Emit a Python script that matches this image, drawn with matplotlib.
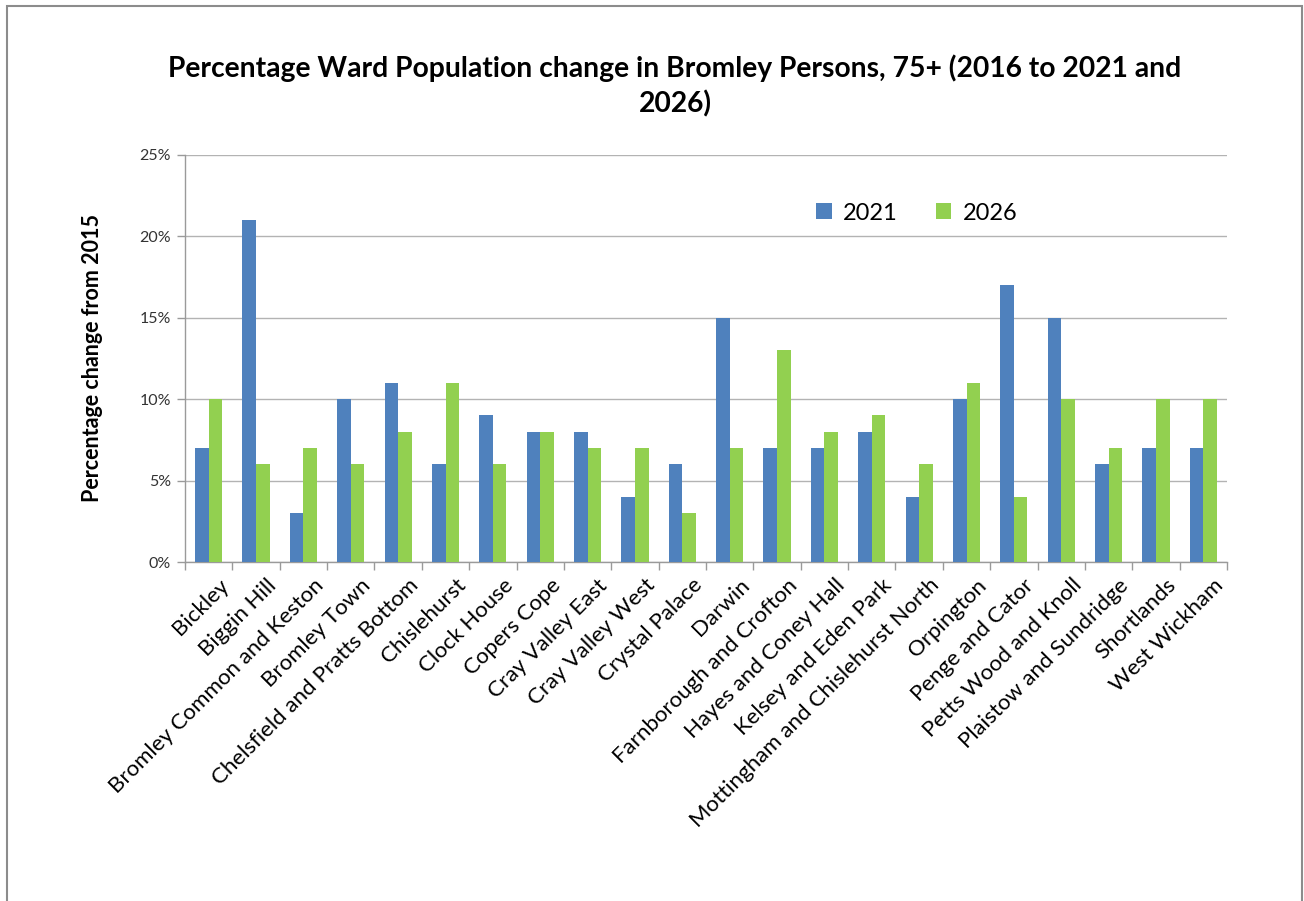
import matplotlib
matplotlib.use("Agg")
import matplotlib.pyplot as plt
from matplotlib.patches import Rectangle
import matplotlib.transforms as mtransforms
import numpy as np

wards = ["Bickley", "Biggin Hill", "Bromley Common and Keston", "Bromley Town",
         "Chelsfield and Pratts Bottom", "Chislehurst", "Clock House", "Copers Cope",
         "Cray Valley East", "Cray Valley West", "Crystal Palace", "Darwin",
         "Farnborough and Crofton", "Hayes and Coney Hall", "Kelsey and Eden Park",
         "Mottingham and Chislehurst North", "Orpington", "Penge and Cator",
         "Petts Wood and Knoll", "Plaistow and Sundridge", "Shortlands", "West Wickham"]
values_2021 = [7, 21, 3, 10, 11, 6, 9, 8, 8, 4, 6, 15, 7, 7, 8, 4, 10, 17, 15, 6, 7, 7]
values_2026 = [10, 6, 7, 6, 8, 11, 6, 8, 7, 7, 3, 7, 13, 8, 9, 6, 11, 4, 10, 7, 10, 10]
yticks = [0, 5, 10, 15, 20, 25]

plt.rcParams['font.family'] = ['Lato', 'DejaVu Sans']

W, H = 1304, 901
fig = plt.figure(figsize=(W / 100, H / 100), dpi=100)
fig.patch.set_facecolor("white")

# outer chart border
fig.patches.append(Rectangle((7 / W, -0.01), (1302 - 7) / W, 1 - 6 / H + 0.01,
                             transform=fig.transFigure, fill=False,
                             edgecolor="#8c8c8c", linewidth=1.5))

ax = fig.add_axes([185 / W, 1 - 562 / H, (1227 - 185) / W, (562 - 155) / H])

x = np.arange(len(wards))
bw = 0.286
blue = "#4F81BD"
green = "#92D050"
ax.bar(x - bw / 2, values_2021, width=bw, color=blue, label="2021", zorder=3)
ax.bar(x + bw / 2, values_2026, width=bw, color=green, label="2026", zorder=3)

ax.set_xlim(-0.5, len(wards) - 0.5)
ax.set_ylim(0, 25)
ax.set_yticks(yticks)
ax.set_yticklabels([f"{v}%" for v in yticks], fontsize=11.5, color="#333333")
ax.yaxis.grid(True, color="#b3b3b3", linewidth=1, zorder=0)
ax.set_axisbelow(True)

ax.set_xticks(np.arange(len(wards) + 1) - 0.5, minor=True)
ax.set_xticks(x)
ax.set_xticklabels(wards, rotation=45, ha="right", rotation_mode="anchor",
                   fontsize=16, color="black")
ax.tick_params(axis="x", which="major", length=0, pad=8)
ax.tick_params(axis="x", which="minor", length=6, color="#9a9a9a", width=1)
ax.tick_params(axis="y", length=6, color="#9a9a9a", width=1, pad=4)

offset = mtransforms.ScaledTranslation(10 / 100, -2 / 100, fig.dpi_scale_trans)
for lab in ax.get_xticklabels():
    lab.set_transform(lab.get_transform() + offset)

for s in ["top", "right"]:
    ax.spines[s].set_visible(False)
for s in ["left", "bottom"]:
    ax.spines[s].set_color("#9a9a9a")
    ax.spines[s].set_linewidth(1)

ax.set_ylabel("Percentage change from 2015", fontsize=15.5, fontweight="bold",
              labelpad=26)

fig.text(675 / W, 1 - 86 / H,
         "Percentage Ward Population change in Bromley Persons, 75+ (2016 to 2021 and\n2026)",
         ha="center", va="center", fontsize=20.3, fontweight="bold", linespacing=1.35)

leg = ax.legend(loc="center", bbox_to_anchor=((917 - 185) / (1227 - 185), (562 - 213) / (562 - 155)),
                ncol=2, frameon=False, fontsize=17, handlelength=0.65, handleheight=0.65,
                columnspacing=1.6, handletextpad=0.5)

fig.savefig("out.png", dpi=100)
